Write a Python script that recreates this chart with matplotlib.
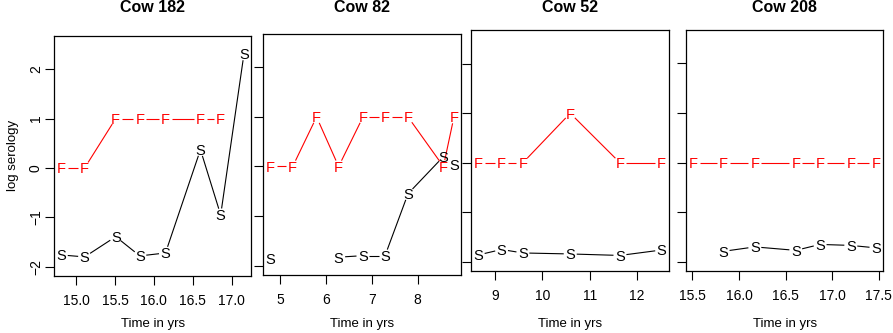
import matplotlib
matplotlib.use('Agg')
import matplotlib.pyplot as plt
import numpy as np
from matplotlib import font_manager

nan = np.nan

# data
cows = ['Cow 182', 'Cow 82', 'Cow 52', 'Cow 208']

t182 = [14.81, 15.11, 15.51, 15.82, 16.15, 16.60, 16.86, 17.16]
s182 = [-1.76, -1.80, -1.39, -1.78, -1.72, 0.37, -0.95, 2.31]
f182 = [0, 0, 1, 1, 1, 1, 1, nan]

t82 = [4.80, 5.28, 5.80, 6.28, 6.81, 7.29, 7.79, 8.56, 8.79]
s82 = [-1.85, nan, nan, -1.83, -1.80, -1.80, -0.55, 0.20, 0.05]
f82 = [0, 0, 1, 0, 1, 1, 1, 0, 1]

t52 = [8.65, 9.14, 9.59, 10.59, 11.64, 12.52]
s52 = [-1.86, -1.75, -1.82, -1.84, -1.87, -1.76]
f52 = [0, 0, 0, 1, 0, 0]

t208 = [15.51, 15.83, 16.17, 16.61, 16.87, 17.20, 17.47]
s208 = [nan, -1.79, -1.70, -1.77, -1.65, -1.67, -1.72]
f208 = [0, 0, 0, 0, 0, 0, 0]

xticks = [[15.0, 15.5, 16.0, 16.5, 17.0], [5, 6, 7, 8], [9, 10, 11, 12],
          [15.5, 16.0, 16.5, 17.0, 17.5]]
xfmt = ['%.1f', '%d', '%d', '%.1f']
yticks = [-2, -1, 0, 1, 2]
ylim = (-2.0, 2.5)

times = [t182, t82, t52, t208]
sero_s = [s182, s82, s52, s208]
sero_f = [f182, f82, f52, f208]

# pick a narrow sans if there is one
names = {f.name for f in font_manager.fontManager.ttflist}
if 'Liberation Sans Narrow' in names:
    fam = 'Liberation Sans Narrow'
    fs, ms, ts = 10.5, 11, 12.5
else:
    fam = 'Liberation Sans'
    fs, ms, ts = 9.5, 10.5, 11.5
plt.rcParams['font.family'] = [fam, 'DejaVu Sans']

W, H = 893, 333
# box edges in pixels: left, right, top, bottom
boxes = [(54, 251.3, 35.5, 275.7), (263.3, 461.3, 33.7, 274.5),
         (471, 669, 30, 270.8), (686, 883.3, 29.7, 270.7)]

fig = plt.figure(figsize=(W / 100, H / 100), dpi=100)


def gapped(ax, x, y, color, gap=6.5):
    # R type="b": line segments with a gap round each point
    pts = ax.transData.transform(np.column_stack([x, y]))
    inv = ax.transData.inverted()
    for i in range(len(x) - 1):
        p0, p1 = pts[i], pts[i + 1]
        if np.isnan(p0).any() or np.isnan(p1).any():
            continue
        d = p1 - p0
        L = np.hypot(d[0], d[1])
        if L <= 2 * gap:
            continue
        u = d / L
        a = inv.transform([p0 + u * gap, p1 - u * gap])
        ax.plot(a[:, 0], a[:, 1], color=color, lw=0.8, solid_capstyle='butt')


for k in range(4):
    l, r, t, b = boxes[k]
    ax = fig.add_axes([l / W, 1 - b / H, (r - l) / W, (b - t) / H])
    x = np.array(times[k], dtype=float)
    s = np.array(sero_s[k], dtype=float)
    f = np.array(sero_f[k], dtype=float)
    xr = x.max() - x.min()
    ax.set_xlim(x.min() - 0.04 * xr, x.max() + 0.04 * xr)
    yr = ylim[1] - ylim[0]
    ax.set_ylim(ylim[0] - 0.04 * yr, ylim[1] + 0.04 * yr)

    gapped(ax, x, f, 'red')
    gapped(ax, x, s, 'black')
    for xi, yi in zip(x, f):
        if not np.isnan(yi):
            ax.text(xi, yi, 'F', color='red', fontsize=ms, ha='center', va='center_baseline')
    for xi, yi in zip(x, s):
        if not np.isnan(yi):
            ax.text(xi, yi, 'S', color='black', fontsize=ms, ha='center', va='center_baseline')

    ax.set_xticks(xticks[k])
    ax.set_xticklabels([xfmt[k] % v for v in xticks[k]])
    ax.set_yticks(yticks)
    if k == 0:
        ax.set_yticklabels([str(v).replace('-', '\u2212') for v in yticks])
        ax.tick_params(axis='y', labelrotation=90, pad=1.5)
        for lab in ax.get_yticklabels():
            lab.set_va('center')
        ax.set_ylabel('log serology', fontsize=fs)
        ax.yaxis.set_label_coords((16.5 - l) / (r - l), 0.5)
        ax.yaxis.label.set_va('baseline')
    else:
        ax.set_yticklabels([])
    ax.tick_params(length=6.5, width=0.8, labelsize=fs + 0.5, direction='out')
    ax.tick_params(axis='x', pad=6.5)
    for sp in ax.spines.values():
        sp.set_linewidth(0.9)

    ax.set_xlabel('Time in yrs', fontsize=fs)
    ax.xaxis.set_label_coords(0.5, -(326.5 - b) / (b - t))
    ax.xaxis.label.set_va('baseline')

    ax.set_title(cows[k], fontsize=ts, fontweight='bold', va='baseline',
                 y=1 + (t - 20.7) / (b - t))

fig.savefig('out.png', dpi=100)
